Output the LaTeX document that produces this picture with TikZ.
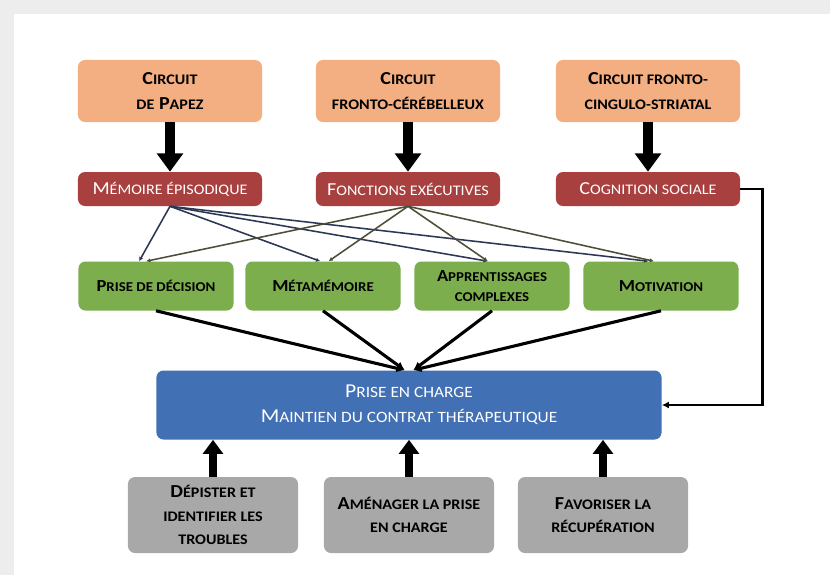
\documentclass[tikz,border=0pt]{standalone}
\usepackage{fontspec}
\setmainfont{Carlito}[FakeStretch=1.1]
\usetikzlibrary{arrows.meta}
\definecolor{circuit}{HTML}{F3AF82}
\definecolor{fonction}{HTML}{A8403F}
\definecolor{effet}{HTML}{7DAE4E}
\definecolor{soin}{HTML}{4270B4}
\definecolor{action}{HTML}{A7A8A7}
\definecolor{inkone}{HTML}{2C3753}
\definecolor{inktwo}{HTML}{4D4D38}
\newcommand\petit[1]{{\addfontfeature{Scale=0.8}\MakeUppercase{#1}}}
\begin{document}
\begin{tikzpicture}[x=.025cm,y=-.025cm,
  box/.style={rounded corners=5pt,align=center,inner sep=0pt},
  circ/.style={box,fill=circuit,minimum width=4.6cm,minimum height=1.55cm,font=\bfseries\fontsize{13}{17.5}\selectfont},
  fonc/.style={box,fill=fonction,text=white,minimum width=4.6cm,minimum height=.85cm,font=\fontsize{13}{15}\selectfont},
  effet/.style={box,fill=effet,minimum width=3.875cm,minimum height=1.225cm,font=\bfseries\fontsize{12}{14}\selectfont},
  soin/.style={box,fill=soin,text=white,minimum width=12.625cm,minimum height=1.725cm,font=\fontsize{14}{18}\selectfont},
  act/.style={box,fill=action,minimum width=4.25cm,minimum height=1.9cm,font=\bfseries\fontsize{13}{16.5}\selectfont},
  fat/.style={line width=7.5pt,-{Triangle[width=18pt,length=13pt]}},
  up/.style={line width=6pt,-{Triangle[width=14pt,length=10pt]}},
  thin/.style={line width=1.1pt,-{Latex[length=3pt,width=3pt]}}]
% fond
\fill[black!7] (0,0) rectangle (830,575); \fill[white] (14,14) rectangle (830,575);
% circuits
\node[circ] (papez) at (170,91) {C\petit{ircuit}\\\petit{de} P\petit{apez}};
\node[circ] (cereb) at (408,91) {C\petit{ircuit}\\\petit{fronto-cérébelleux}};
\node[circ] (strio) at (648,91) {C\petit{ircuit fronto-}\\\petit{cingulo-striatal}};
% fonctions
\node[fonc] (memo) at (170,189) {M\petit{émoire épisodique}};
\node[fonc] (exec) at (408,189) {F\petit{onctions exécutives}};
\node[fonc] (soc) at (648,189) {C\petit{ognition sociale}};
\draw[fat] (papez) -- (memo); \draw[fat] (cereb) -- (exec); \draw[fat] (strio) -- (soc);
% effets
\node[effet] (deci) at (156,286) {P\petit{rise de décision}};
\node[effet] (meta) at (323,286) {M\petit{étamémoire}};
\node[effet] (appr) at (492,286) {A\petit{pprentissages}\\\petit{complexes}};
\node[effet] (moti) at (661,286) {M\petit{otivation}};
\foreach \n/\s in {deci/-12,meta/-2,appr/-3,moti/-9} \draw[thin,inkone] (memo.south) -- ([xshift=\s]\n.north);
\foreach \n/\s in {deci/-7,meta/4,appr/-3,moti/-5} \draw[thin,inktwo] (exec.south) -- ([xshift=\s]\n.north);
% prise en charge
\node[soin] (pec) at (409,405) {P\petit{rise en charge}\\M\petit{aintien du contrat thérapeutique}};
\foreach \n/\s in {deci/-3,meta/-3,appr/3,moti/3} \draw[line width=2.2pt,-{Latex[length=6pt,width=6pt]}] (\n.south) -- ([xshift=\s]pec.north);
\draw[line width=1.8pt,-{Latex[length=5pt,width=5pt]}] (soc.east) -- ++(22,0) |- (pec.east);
% actions
\node[act] (depi) at (213,515) {D\petit{épister et}\\\petit{identifier les}\\\petit{troubles}};
\node[act] (amen) at (409,515) {A\petit{ménager la prise}\\\petit{en charge}};
\node[act] (favo) at (603,515) {F\petit{avoriser la}\\\petit{récupération}};
\foreach \n in {depi,amen,favo} \draw[up] (\n.north) -- (\n.north |- pec.south);
\end{tikzpicture}
\end{document}
